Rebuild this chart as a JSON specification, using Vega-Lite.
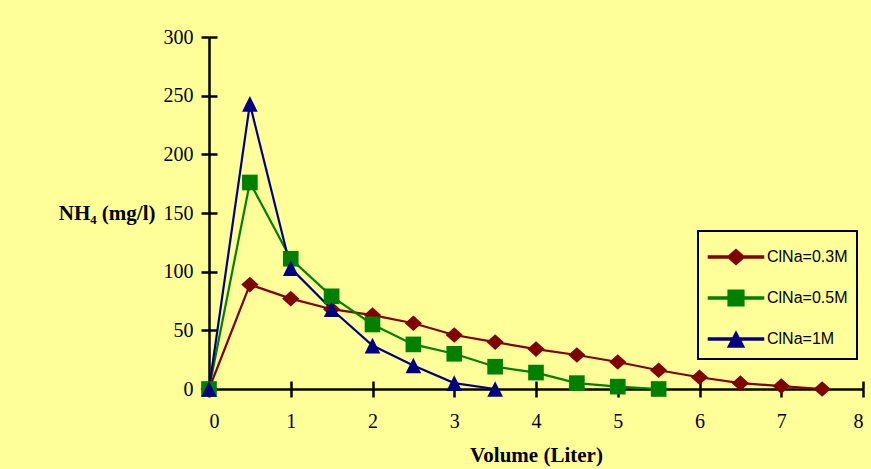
{
  "$schema": "https://vega.github.io/schema/vega-lite/v6.json",
  "width": 654,
  "height": 352,
  "autosize": {"type": "none"},
  "padding": {"left": 209, "top": 37, "right": 8, "bottom": 80},
  "background": "#FFFF99",
  "config": {
    "view": {"stroke": null},
    "axis": {"grid": false, "domainColor": "black", "tickColor": "black", "domainWidth": 2.5, "tickWidth": 2.5, "labelColor": "black", "titleColor": "black", "labelFont": "Liberation Serif", "labelFontSize": 20, "titleFont": "Liberation Serif", "titleFontSize": 21, "titleFontWeight": "bold"},
    "legend": {
      "orient": "none", "legendX": 489, "legendY": 194, "title": null,
      "symbolSize": 1024, "symbolOffset": 12, "labelFont": "Liberation Sans", "labelFontSize": 16, "labelColor": "black",
      "labelOffset": 14, "rowPadding": 13, "padding": 9, "strokeColor": "black", "fillColor": "#FFFF99"
    }
  },
  "data": {
    "values": [
      {"v": 0, "c": 0, "s": "ClNa=0.3M"},
      {"v": 0.5, "c": 89, "s": "ClNa=0.3M"},
      {"v": 1, "c": 77, "s": "ClNa=0.3M"},
      {"v": 1.5, "c": 68, "s": "ClNa=0.3M"},
      {"v": 2, "c": 63, "s": "ClNa=0.3M"},
      {"v": 2.5, "c": 56, "s": "ClNa=0.3M"},
      {"v": 3, "c": 46, "s": "ClNa=0.3M"},
      {"v": 3.5, "c": 40, "s": "ClNa=0.3M"},
      {"v": 4, "c": 34, "s": "ClNa=0.3M"},
      {"v": 4.5, "c": 29, "s": "ClNa=0.3M"},
      {"v": 5, "c": 23, "s": "ClNa=0.3M"},
      {"v": 5.5, "c": 16, "s": "ClNa=0.3M"},
      {"v": 6, "c": 10, "s": "ClNa=0.3M"},
      {"v": 6.5, "c": 5, "s": "ClNa=0.3M"},
      {"v": 7, "c": 2.5, "s": "ClNa=0.3M"},
      {"v": 7.5, "c": 0, "s": "ClNa=0.3M"},
      {"v": 0, "c": 0, "s": "ClNa=0.5M"},
      {"v": 0.5, "c": 176, "s": "ClNa=0.5M"},
      {"v": 1, "c": 111, "s": "ClNa=0.5M"},
      {"v": 1.5, "c": 79, "s": "ClNa=0.5M"},
      {"v": 2, "c": 55, "s": "ClNa=0.5M"},
      {"v": 2.5, "c": 38, "s": "ClNa=0.5M"},
      {"v": 3, "c": 30, "s": "ClNa=0.5M"},
      {"v": 3.5, "c": 19, "s": "ClNa=0.5M"},
      {"v": 4, "c": 14, "s": "ClNa=0.5M"},
      {"v": 4.5, "c": 5, "s": "ClNa=0.5M"},
      {"v": 5, "c": 2, "s": "ClNa=0.5M"},
      {"v": 5.5, "c": 0, "s": "ClNa=0.5M"},
      {"v": 0, "c": 0, "s": "ClNa=1M"},
      {"v": 0.5, "c": 243, "s": "ClNa=1M"},
      {"v": 1, "c": 103, "s": "ClNa=1M"},
      {"v": 1.5, "c": 68, "s": "ClNa=1M"},
      {"v": 2, "c": 37, "s": "ClNa=1M"},
      {"v": 2.5, "c": 20, "s": "ClNa=1M"},
      {"v": 3, "c": 5, "s": "ClNa=1M"},
      {"v": 3.5, "c": 0, "s": "ClNa=1M"}
    ]
  },
  "resolve": {"axis": {"x": "independent", "y": "independent"}},
  "layer": [
    {
      "mark": {"type": "line", "strokeWidth": 2.2},
      "encoding": {
        "x": {"field": "v", "type": "quantitative", "scale": {"domain": [0, 8], "nice": false, "zero": false},
          "axis": {"orient": "bottom", "values": [0, 1, 2, 3, 4, 5, 6, 7, 8], "format": "d", "tickSize": 8, "labelPadding": 14, "title": "Volume (Liter)", "titlePadding": 13}},
        "y": {"field": "c", "type": "quantitative", "scale": {"domain": [0, 300], "nice": false},
          "axis": {"orient": "left", "values": [0, 50, 100, 150, 200, 250, 300], "tickSize": 8, "labelPadding": 8, "title": "NH₄ (mg/l)", "titleAngle": 0, "titleAlign": "right", "titleBaseline": "middle", "titleX": -54, "titleY": 176}},
        "color": {"field": "s", "type": "nominal", "scale": {"domain": ["ClNa=0.3M", "ClNa=0.5M", "ClNa=1M"], "range": ["#800000", "#008000", "#000080"]},
          "legend": {
            "encode": {
              "legend": {"update": {"strokeWidth": {"value": 2}}},
              "symbols": {"update": {
                "shape": {"signal": "datum.value === 'ClNa=0.3M' ? 'M-1.72,-0.0625H1.72V0.0625H-1.72ZM0,-0.47L0.53,0L0,0.47L-0.53,0Z' : datum.value === 'ClNa=0.5M' ? 'M-1.72,-0.0625H1.72V0.0625H-1.72ZM-0.49,-0.49H0.49V0.49H-0.49Z' : 'M-1.72,-0.0625H1.72V0.0625H-1.72ZM0,-0.45L0.5,0.5H-0.5Z'"}
              }}
            }
          }}
      }
    },
    {
      "mark": {"type": "point", "filled": true, "size": 245, "opacity": 1,
        "shape": {"expr": "datum.s === 'ClNa=0.3M' ? 'M-1.1,0L0,-1L1.1,0L0,1Z' : datum.s === 'ClNa=0.5M' ? 'square' : 'M0,-1L1,1L-1,1Z'"}},
      "encoding": {
        "x": {"field": "v", "type": "quantitative",
          "axis": {"orient": "bottom", "values": [0, 1, 2, 3, 4, 5, 6, 7, 8], "labels": false, "domain": false, "title": null, "tickSize": 8, "offset": -8}},
        "y": {"field": "c", "type": "quantitative",
          "axis": {"orient": "left", "values": [0, 50, 100, 150, 200, 250, 300], "labels": false, "domain": false, "title": null, "tickSize": 8, "offset": -8}},
        "color": {"field": "s", "type": "nominal",
          "legend": {
            "encode": {
              "legend": {"update": {"strokeWidth": {"value": 2}}},
              "symbols": {"update": {
                "shape": {"signal": "datum.value === 'ClNa=0.3M' ? 'M-1.72,-0.0625H1.72V0.0625H-1.72ZM0,-0.47L0.53,0L0,0.47L-0.53,0Z' : datum.value === 'ClNa=0.5M' ? 'M-1.72,-0.0625H1.72V0.0625H-1.72ZM-0.49,-0.49H0.49V0.49H-0.49Z' : 'M-1.72,-0.0625H1.72V0.0625H-1.72ZM0,-0.45L0.5,0.5H-0.5Z'"}
              }}
            }
          }
        }
      }
    }
  ]
}
